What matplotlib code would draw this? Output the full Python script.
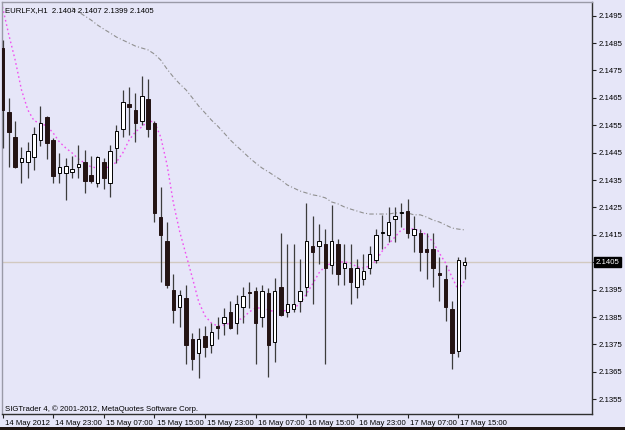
import matplotlib
matplotlib.use("Agg")
import matplotlib.pyplot as plt
import matplotlib.transforms as mtransforms
import numpy as np

# EURLFX H1 candles, 14 May 15:00 .. 17 May 16:00
opens = [2.14832, 2.14599, 2.14507, 2.14416, 2.14416, 2.14434, 2.14496, 2.14580, 2.14496, 2.14376,
         2.14376, 2.14380, 2.14398, 2.14416, 2.14369, 2.14339, 2.14416, 2.14339, 2.14467, 2.14536,
         2.14628, 2.14606, 2.14566, 2.14646, 2.14558, 2.14215, 2.14128, 2.13949, 2.13887, 2.13920,
         2.13770, 2.13719, 2.13781, 2.13748, 2.13817, 2.13828, 2.13869, 2.13828, 2.13887, 2.13942,
         2.13945, 2.13850, 2.13938, 2.13759, 2.13960, 2.13869, 2.13879, 2.13909, 2.13960, 2.14109,
         2.14109, 2.14117, 2.14040, 2.14117, 2.14029, 2.14029, 2.13960, 2.13989, 2.14029, 2.14058,
         2.14157, 2.14150, 2.14208, 2.14228, 2.14237, 2.14150, 2.14157, 2.14098, 2.14098, 2.14009,
         2.13989, 2.13879, 2.13726, 2.1404]
highs = [2.14861, 2.14650, 2.14566, 2.14471, 2.14489, 2.14544, 2.14620, 2.14584, 2.14504, 2.14449,
         2.14431, 2.14438, 2.14478, 2.14460, 2.14438, 2.14438, 2.14431, 2.14478, 2.14551, 2.14679,
         2.14690, 2.14668, 2.14730, 2.14719, 2.14566, 2.14325, 2.14197, 2.14007, 2.13949, 2.13967,
         2.13792, 2.13810, 2.13817, 2.13828, 2.13850, 2.13883, 2.13909, 2.13931, 2.13960, 2.13978,
         2.13960, 2.13967, 2.13956, 2.13993, 2.14157, 2.14117, 2.14117, 2.14062, 2.14266, 2.14219,
         2.14190, 2.14171, 2.14259, 2.14135, 2.14117, 2.14117, 2.14062, 2.14080, 2.14109, 2.14171,
         2.14223, 2.14252, 2.14252, 2.14266, 2.14281, 2.14219, 2.14171, 2.14157, 2.14157, 2.14069,
         2.14040, 2.13909, 2.14069, 2.1407]
lows = [2.14467, 2.14398, 2.14394, 2.14339, 2.14358, 2.14387, 2.14474, 2.14427, 2.14339, 2.14339,
        2.14277, 2.14358, 2.14358, 2.14303, 2.14339, 2.14325, 2.14317, 2.14288, 2.14412, 2.14507,
        2.14515, 2.14489, 2.14551, 2.14507, 2.14197, 2.13978, 2.13956, 2.13828, 2.13814, 2.13679,
        2.13657, 2.13628, 2.13704, 2.13719, 2.13770, 2.13785, 2.13806, 2.13788, 2.13828, 2.13883,
        2.13679, 2.13814, 2.13631, 2.13686, 2.13854, 2.13850, 2.13869, 2.13869, 2.13927, 2.13898,
        2.14044, 2.13679, 2.14007, 2.13967, 2.13967, 2.13898, 2.13920, 2.13967, 2.14007, 2.14047,
        2.14098, 2.14124, 2.14124, 2.14179, 2.14139, 2.14088, 2.14018, 2.13989, 2.13960, 2.13909,
        2.13836, 2.13660, 2.13704, 2.1399]
closes = [2.14606, 2.14526, 2.14398, 2.14431, 2.14456, 2.14518, 2.14558, 2.14485, 2.14365, 2.14398,
          2.14401, 2.14390, 2.14409, 2.14347, 2.14347, 2.14434, 2.14358, 2.14456, 2.14529, 2.14635,
          2.14617, 2.14558, 2.14657, 2.14536, 2.14230, 2.14150, 2.13967, 2.13876, 2.13931, 2.13748,
          2.13697, 2.13770, 2.13741, 2.13796, 2.13810, 2.13850, 2.13810, 2.13898, 2.13927, 2.13938,
          2.13828, 2.13945, 2.13748, 2.13945, 2.13858, 2.13898, 2.13898, 2.13945, 2.14128, 2.14088,
          2.14128, 2.14029, 2.14128, 2.14007, 2.14047, 2.13978, 2.14029, 2.14018, 2.14080, 2.14150,
          2.14161, 2.14197, 2.14219, 2.14232, 2.14157, 2.14171, 2.14088, 2.14088, 2.14029, 2.14005,
          2.13887, 2.13719, 2.14058, 2.1405]

ma_fast = [2.14982, 2.14880, 2.14788, 2.14679, 2.14606, 2.14566, 2.14558, 2.14547, 2.14522, 2.14489,
           2.14467, 2.14449, 2.14427, 2.14412, 2.14398, 2.14394, 2.14394, 2.14398, 2.14416, 2.14449,
           2.14496, 2.14526, 2.14544, 2.14566, 2.14562, 2.14507, 2.14405, 2.14266, 2.14161, 2.14077,
           2.13993, 2.13905, 2.13854, 2.13828, 2.13817, 2.13821, 2.13828, 2.13836, 2.13847, 2.13869,
           2.13883, 2.13883, 2.13876, 2.13869, 2.13869, 2.13876, 2.13883, 2.13898, 2.13934, 2.13971,
           2.14011, 2.14036, 2.14047, 2.14051, 2.14051, 2.14047, 2.14033, 2.14029, 2.14036, 2.14055,
           2.14091, 2.14117, 2.14142, 2.14168, 2.14175, 2.14171, 2.14164, 2.14150, 2.14124, 2.14084,
           2.14047, 2.13996, 2.13949, 2.13982]
slow_start = 11
ma_slow = [2.14978, 2.14964, 2.14949, 2.14934, 2.14916, 2.14901, 2.14887, 2.14872, 2.14861,
           2.14850, 2.14839, 2.14832, 2.14825, 2.14810, 2.14788, 2.14755, 2.14726, 2.14701, 2.14679,
           2.14650, 2.14620, 2.14595, 2.14569, 2.14547, 2.14522, 2.14496, 2.14474, 2.14453, 2.14431,
           2.14412, 2.14394, 2.14380, 2.14365, 2.14350, 2.14332, 2.14321, 2.14310, 2.14303, 2.14296,
           2.14292, 2.14285, 2.14270, 2.14263, 2.14252, 2.14244, 2.14237, 2.14230, 2.14226, 2.14226,
           2.14226, 2.14226, 2.14230, 2.14230, 2.14230, 2.14223, 2.14223, 2.14215, 2.14204, 2.14197,
           2.14186, 2.14175, 2.14171, 2.14168]

tick_idx = [0, 8, 16, 24, 32, 40, 48, 56, 64, 72]
tick_labels = ['14 May 2012', '14 May 23:00', '15 May 07:00', '15 May 15:00', '15 May 23:00',
               '16 May 07:00', '16 May 15:00', '16 May 23:00', '17 May 07:00', '17 May 15:00']
price_ticks = [2.1355, 2.1365, 2.1375, 2.1385, 2.1395, 2.1405, 2.1415,
               2.1425, 2.1435, 2.1445, 2.1455, 2.1465, 2.1475, 2.1485, 2.1495]
last_price = 2.1405
title = 'EURLFX,H1  2.1404 2.1407 2.1399 2.1405'
copyright = 'SIGTrader 4, © 2001-2012, MetaQuotes Software Corp.'

bg = '#E6E6F8'
dark = '#241414'
font = 'Liberation Sans'
fs = 5.6

fig = plt.figure(figsize=(6.25, 4.3), dpi=100, facecolor=bg)
ax = fig.add_axes([2 / 625, 16 / 430, 590 / 625, 412 / 430], facecolor=bg)

x = np.arange(len(opens))
o = np.array(opens)
c = np.array(closes)

# current price line
ax.axhline(last_price, color='#D2C9C0', lw=1.0, zorder=1)

# moving averages
ax.plot(x, ma_fast, color='#F050F0', lw=1.0, ls=(0, (1.2, 2.0)), zorder=2)
ax.plot(x[slow_start:], ma_slow, color='#909090', lw=0.8, ls=(0, (4, 2, 1, 2)), zorder=2)

# candles
ax.vlines(x, lows, highs, color='#3C3C3C', lw=0.9, zorder=3)
up = c >= o
body_h = np.maximum(np.abs(c - o), 0.000015)
ax.bar(x[up], body_h[up], bottom=np.minimum(o, c)[up], width=0.55,
       color='white', edgecolor='black', lw=0.7, zorder=4)
ax.bar(x[~up], body_h[~up], bottom=np.minimum(o, c)[~up], width=0.55,
       color=dark, edgecolor=dark, lw=0.7, zorder=4)

ax.set_xlim(-0.08, 93.13)
ax.set_ylim(2.13496, 2.15000)

ax.yaxis.tick_right()
ax.set_yticks(price_ticks)
# the current price label replaces the regular tick label at that level
ax.set_yticklabels(['' if abs(p - last_price) < 1e-6 else '%.4f' % p for p in price_ticks],
                   fontsize=fs, family=font)
ax.set_xticks(tick_idx)
ax.set_xticklabels(tick_labels, fontsize=fs, family=font, ha='left')
ax.tick_params(axis='both', direction='out', length=3, width=0.8, color='#202020',
               labelcolor='black', pad=1.5)
for lbl in ax.get_xticklabels():
    lbl.set_transform(lbl.get_transform() + mtransforms.ScaledTranslation(1.5 / 72, 0, fig.dpi_scale_trans))

for side in ['left', 'top']:
    ax.spines[side].set_color('#9A9AA8')
    ax.spines[side].set_linewidth(1.0)
for side in ['right', 'bottom']:
    ax.spines[side].set_color('#303030')
    ax.spines[side].set_linewidth(1.0)

# current price marker on the axis
trans = mtransforms.blended_transform_factory(ax.transAxes, ax.transData)
ax.text(1.006, last_price, '%.4f' % last_price, transform=trans, fontsize=fs, family=font,
        color='white', va='center', ha='left', clip_on=False, zorder=10,
        bbox=dict(facecolor='black', edgecolor='black', pad=1.0))

ax.text(0.005, 0.987, title, transform=ax.transAxes, fontsize=fs, family=font,
        va='top', ha='left', color='black')
ax.text(0.005, 0.002, copyright, transform=ax.transAxes, fontsize=fs, family=font,
        va='bottom', ha='left', color='black')

# dark strip along the bottom edge
fig.patches.append(plt.Rectangle((0, 0), 1, 3 / 430, transform=fig.transFigure,
                                 facecolor='#1E1410', edgecolor='none'))

fig.savefig('out.png', dpi=100, facecolor=bg)
